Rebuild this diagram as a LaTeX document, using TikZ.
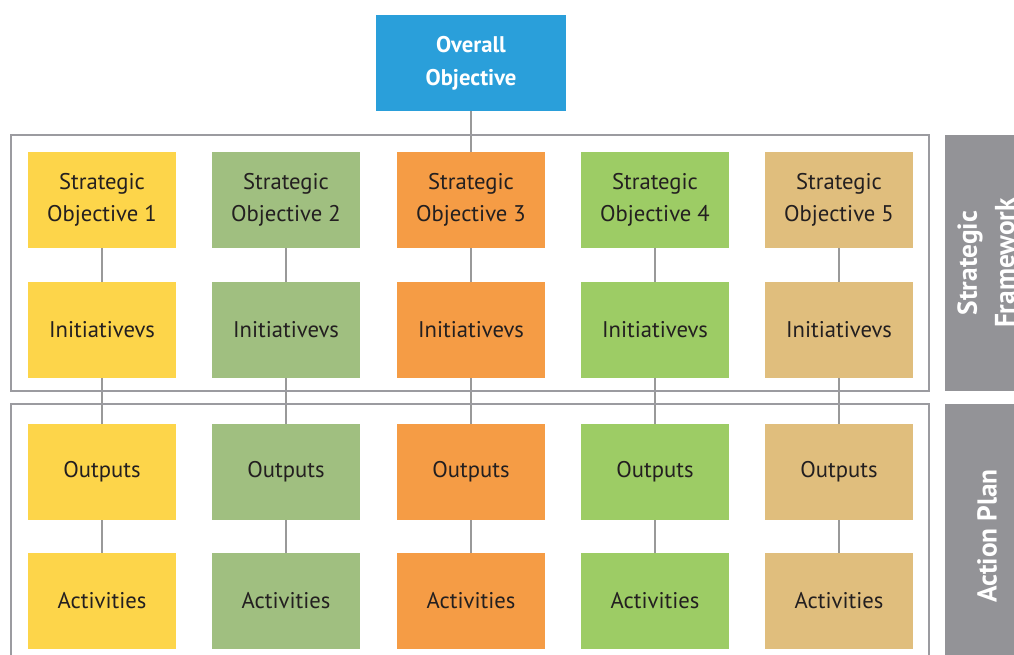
\documentclass[tikz,border=0pt]{standalone}
\usepackage{fontspec}
\setmainfont{PT Sans}
\definecolor{ovblue}{HTML}{2A9FDA}
\definecolor{cyel}{HTML}{FDD54A}
\definecolor{cgrn}{HTML}{A0BF80}
\definecolor{corg}{HTML}{F59C45}
\definecolor{clgr}{HTML}{9DCC65}
\definecolor{ctan}{HTML}{E0BE7D}
\definecolor{framegray}{HTML}{9B9BA0}
\definecolor{panelgray}{HTML}{939397}
\definecolor{linegray}{HTML}{999999}
\definecolor{txt}{HTML}{231F20}
\begin{document}
\begin{tikzpicture}[x=0.75pt,y=-0.75pt,
  cell/.style={minimum width=111pt,minimum height=72pt,inner sep=0pt,align=center,
    font=\fontsize{17}{24}\selectfont,text=txt},
  ovbox/.style={fill=ovblue,minimum width=142.5pt,minimum height=72pt,inner sep=0pt,align=center,
    font=\bfseries\fontsize{17}{25}\selectfont,text=white},
  frame/.style={draw=framegray,line width=2.2pt},
  panel/.style={fill=panelgray},
  sidetext/.style={text=white,font=\bfseries\fontsize{20.5}{28}\selectfont,align=center,rotate=90},
  conn/.style={draw=linegray,line width=1pt}]
\clip (0,0) rectangle (1014,655);
\fill[white] (0,0) rectangle (1014,655);
% side panels
\fill[panel] (945,135) rectangle (1020,391);
\fill[panel] (945,404) rectangle (1020,670);
\node[sidetext] (sf) at (986,263) {Strategic\\Framework};
\node[sidetext] (ap) at (987,536) {Action Plan};
% overall
\node[ovbox] (ov) at (471,63) {Overall\\Objective};
% columns
\foreach \i/\x/\c in {1/102/cyel,2/286/cgrn,3/471/corg,4/655/clgr,5/839/ctan}{
  \node[cell,fill=\c] (s\i) at (\x,200) {Strategic\\Objective \i};
  \node[cell,fill=\c] (n\i) at (\x,330) {Initiativevs};
  \node[cell,fill=\c] (o\i) at (\x,472) {Outputs};
  \node[cell,fill=\c] (a\i) at (\x,601) {Activities};
}
% connectors
\draw[conn] (ov) -- (s3);
\foreach \i in {1,...,5}{
  \draw[conn] (s\i) -- (n\i);
  \draw[conn] (n\i) -- (o\i);
  \draw[conn] (o\i) -- (a\i);
}
% frames
\draw[frame] (11,135) rectangle (929,391);
\draw[frame] (11,404) rectangle (929,680);
\end{tikzpicture}
\end{document}
